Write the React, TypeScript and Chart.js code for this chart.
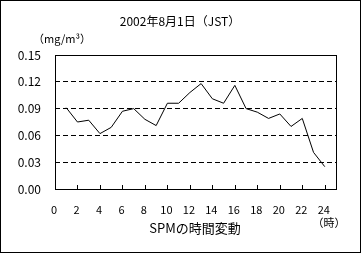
import React, { useEffect, useRef } from "react";
import { Chart, registerables } from "chart.js";

Chart.register(...registerables);

const hours = [1, 2, 3, 4, 5, 6, 7, 8, 9, 10, 11, 12, 13, 14, 15, 16, 17, 18, 19, 20, 21, 22, 23, 24];
const spm = [0.091, 0.075, 0.077, 0.062, 0.069, 0.087, 0.09, 0.078, 0.071, 0.096, 0.096, 0.108, 0.118, 0.101, 0.096, 0.116, 0.09, 0.086, 0.079, 0.084, 0.07, 0.079, 0.041, 0.025];
const xTickValues = [0, 2, 4, 6, 8, 10, 12, 14, 16, 18, 20, 22, 24];
const yTickValues = [0, 0.03, 0.06, 0.09, 0.12, 0.15];
const titleText = "2002年8月1日（JST）";
const unitText = "（mg/m³）";
const xTitleText = "SPMの時間変動";
const xUnitText = "（時）";

const FONT = "'Noto Sans CJK JP', 'Noto Sans', sans-serif";

const framePlugin = {
  id: "frame",
  afterDraw(chart: any) {
    const ctx = chart.ctx;
    const { left, right, top, bottom } = chart.chartArea;
    const xs = chart.scales.x;
    ctx.save();
    ctx.strokeStyle = "#000";
    ctx.lineWidth = 1;
    ctx.setLineDash([]);
    ctx.strokeRect(Math.round(left) + 0.5, Math.round(top) + 0.5, Math.round(right - left), Math.round(bottom - top));
    ctx.beginPath();
    for (const v of xTickValues) {
      if (v === 0) continue;
      const px = Math.round(xs.getPixelForValue(v)) + 0.5;
      ctx.moveTo(px, Math.round(bottom));
      ctx.lineTo(px, Math.round(bottom) - 4);
    }
    ctx.stroke();
    ctx.strokeRect(0.5, 0.5, chart.width - 1, chart.height - 1);
    ctx.fillStyle = "#000";
    ctx.textBaseline = "middle";
    ctx.font = `11px ${FONT}`;
    ctx.textAlign = "center";
    for (const v of xTickValues) {
      ctx.fillText(String(v), xs.getPixelForValue(v) - 1, 210);
    }
    ctx.font = `12px ${FONT}`;
    ctx.fillText(titleText, 180, 21);
    ctx.font = `11px ${FONT}`;
    ctx.textAlign = "left";
    ctx.fillText(unitText, 33, 39);
    ctx.font = `13px ${FONT}`;
    ctx.textAlign = "center";
    ctx.fillText(xTitleText, 195, 228);
    ctx.font = `11px ${FONT}`;
    ctx.fillText(xUnitText, 329, 223);
    ctx.restore();
  },
};

export default function App() {
  const ref = useRef<HTMLCanvasElement | null>(null);
  useEffect(() => {
    document.body.style.margin = "0";
    const canvas = ref.current!;
    const chart = new Chart(canvas, {
      type: "line",
      data: {
        datasets: [
          {
            data: hours.map((h, i) => ({ x: h, y: spm[i] })),
            borderColor: "#000",
            borderWidth: 1,
            pointRadius: 0,
            tension: 0,
            fill: false,
          },
        ],
      },
      options: {
        responsive: false,
        animation: false,
        devicePixelRatio: 1,
        layout: { padding: { top: 55, right: 25, left: 0, bottom: 0 } },
        plugins: { legend: { display: false }, tooltip: { enabled: false }, title: { display: false } },
        scales: {
          x: {
            type: "linear",
            min: 0,
            max: 25,
            afterBuildTicks: (s: any) => {
              s.ticks = xTickValues.map((v) => ({ value: v }));
            },
            afterFit: (s: any) => {
              s.height = 64;
            },
            grid: { display: false },
            border: { display: false },
            ticks: { display: false },
          },
          y: {
            min: 0,
            max: 0.15,
            afterBuildTicks: (s: any) => {
              s.ticks = yTickValues.map((v) => ({ value: v }));
            },
            afterFit: (s: any) => {
              s.width = 55;
            },
            grid: { color: "#000", lineWidth: 1, drawTicks: false },
            border: { display: false, dash: [5, 3] },
            ticks: {
              color: "#000",
              font: { size: 12, family: FONT },
              padding: 14,
              callback: (v: any) => Number(v).toFixed(2),
            },
          },
        },
      },
      plugins: [framePlugin],
    });
    return () => chart.destroy();
  }, []);
  return <canvas ref={ref} width={361} height={253} style={{ display: "block" }} />;
}
